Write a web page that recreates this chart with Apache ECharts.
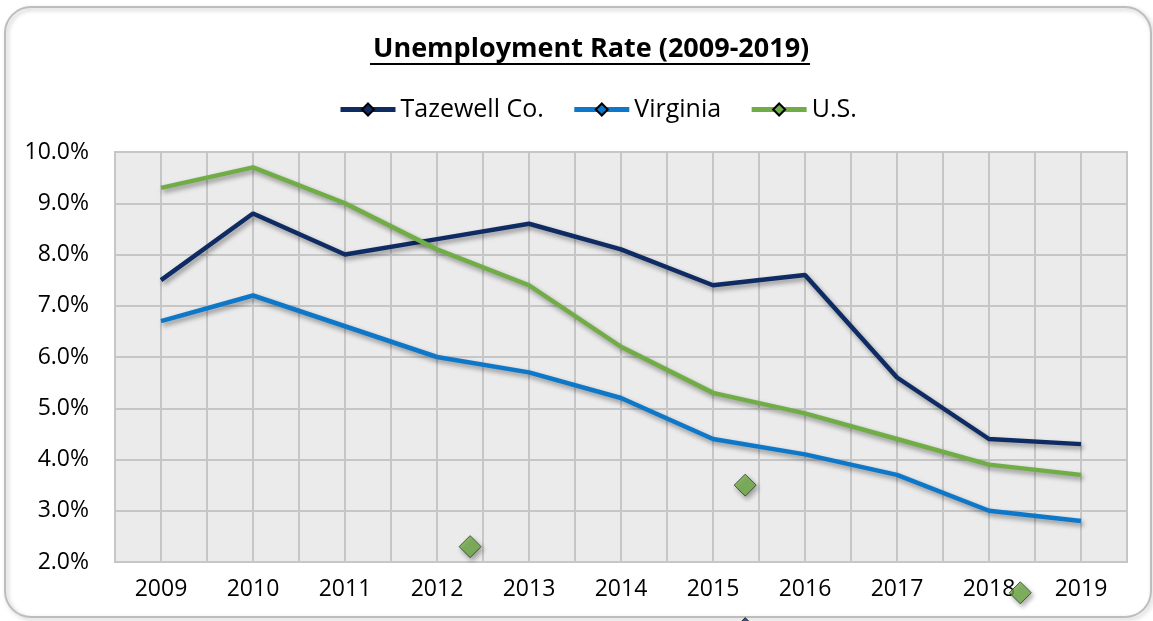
<!DOCTYPE html>
<html>
<head>
<meta charset="utf-8">
<script src="https://cdn.jsdelivr.net/npm/echarts@6/dist/echarts.min.js"></script>
<style>
  html, body { margin: 0; padding: 0; background: #fff; }
  #chart { width: 1153px; height: 621px; }
</style>
</head>
<body>
<div id="chart"></div>
<script>
// data
var years = [2009, 2010, 2011, 2012, 2013, 2014, 2015, 2016, 2017, 2018, 2019];
var tazewell = [7.5, 8.8, 8.0, 8.3, 8.6, 8.1, 7.4, 7.6, 5.6, 4.4, 4.3];
var virginia = [6.7, 7.2, 6.6, 6.0, 5.7, 5.2, 4.4, 4.1, 3.7, 3.0, 2.8];
var usa = [9.3, 9.7, 9.0, 8.1, 7.4, 6.2, 5.3, 4.9, 4.4, 3.9, 3.7];
// stray markers seen in the picture
var strayGreenX = [2012.36, 2015.35, 2018.34];
var strayGreenY = [2.3, 3.5, 1.4];
var strayNavyX = [2015.35];
var strayNavyY = [0.7];
var yTicks = [2, 3, 4, 5, 6, 7, 8, 9, 10];

var FONT = 'Open Sans';
var shadow = { shadowColor: 'rgba(0,0,0,0.4)', shadowBlur: 5, shadowOffsetX: 2, shadowOffsetY: 3 };

function pairs(xs, ys) {
  return xs.map(function (x, i) { return [x, ys[i]]; });
}

function lineSeries(name, color, values) {
  return {
    name: name,
    type: 'line',
    data: pairs(years, values),
    symbol: 'diamond',
    symbolSize: 14,
    showSymbol: false,
    itemStyle: { color: color, borderColor: '#000', borderWidth: 1 },
    lineStyle: Object.assign({ color: color, width: 4.5 }, shadow),
    emphasis: { disabled: true },
    z: 3
  };
}

var chart = echarts.init(document.getElementById('chart'));
chart.setOption({
  animation: false,
  textStyle: { fontFamily: FONT },
  title: {
    text: 'Unemployment Rate (2009-2019)',
    left: 368,
    top: 31,
    textStyle: { fontFamily: FONT, fontWeight: 'bold', fontSize: 27, color: '#000' }
  },
  legend: {
    top: 92,
    left: 333,
    itemWidth: 55,
    itemHeight: 15,
    itemGap: 28,
    data: ['Tazewell Co.', 'Virginia', 'U.S.'],
    lineStyle: { width: 5, shadowBlur: 0, shadowOffsetX: 0, shadowOffsetY: 0 },
    textStyle: { fontFamily: FONT, fontSize: 25, color: '#000' }
  },
  grid: { left: 115, right: 26, top: 152, bottom: 59, show: true, backgroundColor: '#ebebeb', borderColor: '#c0c0c0', borderWidth: 2 },
  xAxis: {
    type: 'value',
    min: 2008.5,
    max: 2019.5,
    interval: 0.5,
    axisLine: { show: false },
    axisTick: { show: false },
    splitLine: { show: true, lineStyle: { color: '#c6c6c6', width: 2 } },
    axisLabel: {
      color: '#000',
      fontSize: 23,
      margin: 16,
      showMinLabel: false,
      showMaxLabel: false,
      formatter: function (v) { return Number.isInteger(v) ? String(v) : ''; }
    }
  },
  yAxis: {
    type: 'value',
    min: yTicks[0],
    max: yTicks[yTicks.length - 1],
    interval: 1,
    axisLine: { show: false },
    axisTick: { show: false },
    splitLine: { show: true, lineStyle: { color: '#c6c6c6', width: 2 } },
    axisLabel: {
      color: '#000',
      fontSize: 23,
      margin: 26,
      formatter: function (v) { return v.toFixed(1) + '%'; }
    }
  },
  graphic: [
    {
      type: 'rect',
      shape: { x: 5, y: 7, width: 1146, height: 610, r: 26 },
      style: { fill: 'none', stroke: '#bdbdbd', lineWidth: 2, shadowColor: 'rgba(0,0,0,0.25)', shadowBlur: 4, shadowOffsetX: 2, shadowOffsetY: 2 },
      z: -10,
      silent: true
    },
    {
      type: 'line',
      shape: { x1: 370, y1: 64, x2: 810, y2: 64 },
      style: { stroke: '#000', lineWidth: 2 },
      silent: true
    }
  ],
  series: [
    lineSeries('Tazewell Co.', '#0f2b63', tazewell),
    lineSeries('Virginia', '#0d78c9', virginia),
    lineSeries('U.S.', '#70ad47', usa),
    {
      name: 'strayGreen',
      type: 'scatter',
      data: pairs(strayGreenX, strayGreenY),
      symbol: 'diamond',
      symbolSize: [22, 22],
      clip: false,
      itemStyle: Object.assign({ color: '#70ad47', borderColor: '#2f3f24', borderWidth: 1 }, shadow),
      z: 4
    },
    {
      name: 'strayNavy',
      type: 'scatter',
      data: pairs(strayNavyX, strayNavyY),
      symbol: 'diamond',
      symbolSize: [22, 22],
      clip: false,
      itemStyle: { color: '#0f2b63', borderColor: '#000', borderWidth: 1 },
      z: 4
    }
  ]
});
</script>
</body>
</html>
